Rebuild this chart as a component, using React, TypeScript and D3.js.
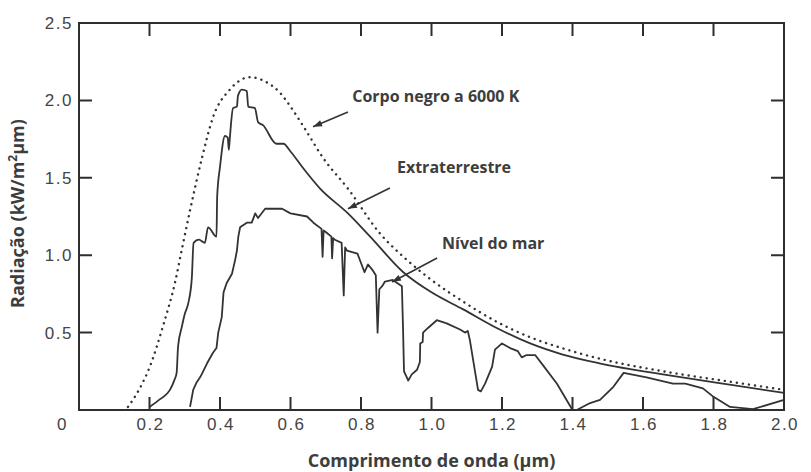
import React from 'react'
import * as d3 from 'd3'

// [wavelength µm, radiation kW/m²µm]
const blackBody: [number, number][] = [
  [0.139, 0.02], [0.17, 0.13], [0.201, 0.28], [0.238, 0.54], [0.272, 0.82],
  [0.292, 1.04], [0.315, 1.29], [0.349, 1.63], [0.38, 1.89], [0.428, 2.07],
  [0.485, 2.15], [0.53, 2.12], [0.57, 2.05], [0.6, 1.96], [0.64, 1.82],
  [0.692, 1.63], [0.763, 1.43], [0.854, 1.14], [0.93, 0.97], [1.0, 0.84],
  [1.09, 0.7], [1.185, 0.57], [1.28, 0.47], [1.37, 0.4], [1.48, 0.33],
  [1.67, 0.245], [1.855, 0.18], [2.0, 0.13]
]

const extraterrestrial: [number, number][] = [
  [0.2, 0.02], [0.23, 0.07], [0.258, 0.13], [0.27, 0.19], [0.277, 0.24],
  [0.281, 0.41], [0.292, 0.54], [0.3, 0.62], [0.31, 0.69], [0.32, 0.85],
  [0.325, 1.08], [0.34, 1.1], [0.357, 1.08], [0.366, 1.18], [0.39, 1.12],
  [0.392, 1.38], [0.4, 1.57], [0.414, 1.77], [0.422, 1.76], [0.425, 1.68],
  [0.428, 1.76], [0.437, 1.95], [0.448, 1.96], [0.451, 2.03], [0.462, 2.07],
  [0.476, 2.06], [0.48, 1.96], [0.499, 1.95], [0.508, 1.86], [0.522, 1.84],
  [0.56, 1.72], [0.58, 1.72], [0.6, 1.67], [0.64, 1.55], [0.684, 1.43],
  [0.763, 1.27], [0.826, 1.12], [0.92, 0.89], [1.0, 0.76], [1.09, 0.65],
  [1.185, 0.53], [1.28, 0.43], [1.37, 0.36], [1.48, 0.3], [1.67, 0.225],
  [1.855, 0.16], [2.0, 0.11]
]

const seaLevel: [number, number][] = [
  [0.315, 0.02], [0.324, 0.13], [0.334, 0.18], [0.343, 0.21], [0.348, 0.23],
  [0.363, 0.3], [0.38, 0.37], [0.39, 0.4], [0.395, 0.5], [0.405, 0.6],
  [0.41, 0.76], [0.419, 0.82], [0.434, 0.88], [0.443, 0.97], [0.448, 1.03],
  [0.452, 1.12], [0.457, 1.18], [0.476, 1.21], [0.49, 1.21], [0.5, 1.27],
  [0.508, 1.24], [0.528, 1.3], [0.576, 1.3], [0.6, 1.27], [0.647, 1.25],
  [0.665, 1.21], [0.688, 1.17], [0.691, 0.99], [0.694, 1.16], [0.7, 1.15],
  [0.716, 1.12], [0.718, 0.98], [0.721, 1.11], [0.726, 1.1], [0.745, 1.08],
  [0.751, 0.74], [0.755, 1.05], [0.76, 1.03], [0.79, 1.01], [0.81, 0.89],
  [0.82, 0.94], [0.834, 0.9], [0.842, 0.87], [0.847, 0.5], [0.852, 0.78],
  [0.86, 0.8], [0.868, 0.83], [0.89, 0.84], [0.916, 0.8], [0.919, 0.55],
  [0.922, 0.25], [0.93, 0.21], [0.934, 0.19], [0.944, 0.23], [0.959, 0.26],
  [0.967, 0.31], [0.968, 0.43], [0.975, 0.44], [0.976, 0.5], [0.99, 0.53],
  [1.015, 0.58], [1.043, 0.56], [1.081, 0.52], [1.095, 0.5], [1.103, 0.51],
  [1.109, 0.45], [1.132, 0.13], [1.14, 0.12], [1.152, 0.17], [1.172, 0.28],
  [1.18, 0.39], [1.2, 0.43], [1.223, 0.4], [1.245, 0.38], [1.256, 0.34],
  [1.27, 0.355], [1.294, 0.355], [1.316, 0.29], [1.356, 0.17], [1.4, 0.0],
  [1.412, 0.0], [1.45, 0.045], [1.478, 0.065], [1.516, 0.15], [1.545, 0.24],
  [1.61, 0.21], [1.685, 0.17], [1.72, 0.17], [1.77, 0.14], [1.8, 0.085],
  [1.847, 0.02], [1.912, 0.005], [2.0, 0.065]
]

const xTicks = [0.2, 0.4, 0.6, 0.8, 1.0, 1.2, 1.4, 1.6, 1.8]
const xTickLabels = ['0.2', '0.4', '0.6', '0.8', '1.0', '1.2', '1.4', '1.6', '1.8', '2.0']
const yTicks = [0.5, 1.0, 1.5, 2.0]
const yTickLabels = ['0.5', '1.0', '1.5', '2.0', '2.5']

// annotations: label position, arrow start -> arrow tip (all in data units)
const annotations = [
  { text: 'Corpo negro a 6000 K', at: [0.775, 1.99], from: [0.763, 1.925], to: [0.664, 1.83] },
  { text: 'Extraterrestre', at: [0.902, 1.53], from: [0.882, 1.434], to: [0.763, 1.3] },
  { text: 'Nível do mar', at: [1.03, 1.04], from: [1.016, 0.982], to: [0.888, 0.827] }
]

const W = 811
const H = 472
const margin = { left: 79, right: 27, top: 23, bottom: 62 }

const ink = '#333'
const labelColor = '#3d3d3d'

export default function App() {
  const x = d3.scaleLinear().domain([0, 2]).range([margin.left, W - margin.right])
  const y = d3.scaleLinear().domain([0, 2.5]).range([H - margin.bottom, margin.top])

  const smooth = d3.line<[number, number]>().x(d => x(d[0])).y(d => y(d[1])).curve(d3.curveMonotoneX)
  const jagged = d3.line<[number, number]>().x(d => x(d[0])).y(d => y(d[1]))

  const left = x(0), right = x(2), bottom = y(0), top = y(2.5)
  const tickLen = 13
  const pw = right - left, ph = bottom - top

  // frame + inward ticks, relative to the plot's top-left corner
  const frame = d3.path()
  frame.rect(0, 0, pw, ph)
  xTicks.forEach(t => {
    const px = x(t) - left
    frame.moveTo(px, ph); frame.lineTo(px, ph - tickLen)
    frame.moveTo(px, 0); frame.lineTo(px, tickLen)
  })
  yTicks.forEach(t => {
    const py = y(t) - top
    frame.moveTo(0, py); frame.lineTo(tickLen, py)
    frame.moveTo(pw, py); frame.lineTo(pw - tickLen, py)
  })

  const arrowHead = (from: number[], to: number[]) => {
    const fx = x(from[0]), fy = y(from[1]), tx = x(to[0]), ty = y(to[1])
    const a = Math.atan2(ty - fy, tx - fx)
    const len = 9, w = 3.2
    const bx = tx - len * Math.cos(a), by = ty - len * Math.sin(a)
    const px = -Math.sin(a) * w, py = Math.cos(a) * w
    return `M${tx},${ty}L${bx + px},${by + py}L${bx - px},${by - py}Z`
  }

  const tickFont = { fontFamily: '"Liberation Sans", Arial, sans-serif', fontSize: 17, letterSpacing: 1.5, fill: '#444' }
  const titleFont = { fontFamily: '"Open Sans", sans-serif', fontWeight: 700, fill: labelColor }

  return (
    <svg width={W} height={H} style={{ position: 'absolute', left: 0, top: 0 }}>
      {/* tick labels */}
      {xTickLabels.map(l => (
        <text key={'xlab' + l} x={x(+l) + 1} y={bottom + 20} textAnchor="middle" {...tickFont}>{l}</text>
      ))}
      <text x={left - 11} y={bottom + 20} textAnchor="end" {...tickFont}>0</text>
      {yTickLabels.map(l => (
        <text key={'ylab' + l} x={left - 6} y={y(+l) + 6} textAnchor="end" {...tickFont}>{l}</text>
      ))}

      {/* curves */}
      <path d={smooth(blackBody) || ''} fill="none" stroke={ink} strokeWidth={2.4}
        strokeDasharray="0.1 6" strokeLinecap="round" />
      <path d={smooth(extraterrestrial) || ''} fill="none" stroke={ink} strokeWidth={1.8} />
      <path d={jagged(seaLevel) || ''} fill="none" stroke={ink} strokeWidth={1.8} strokeLinejoin="round" />

      {/* annotations */}
      {annotations.map(a => (
        <g key={a.text}>
          <path d={`M${x(a.from[0])},${y(a.from[1])}L${x(a.to[0])},${y(a.to[1])}`} stroke={ink} strokeWidth={1.6} fill="none" />
          <path d={arrowHead(a.from, a.to)} fill={ink} />
          <text x={x(a.at[0])} y={y(a.at[1])} fontSize={16} {...titleFont}>{a.text}</text>
        </g>
      ))}

      {/* axis titles */}
      <text x={(left + right) / 2} y={467} textAnchor="middle" fontSize={18} {...titleFont}>Comprimento de onda (µm)</text>
      <text transform={`translate(24, ${(bottom + top) / 2 - 3}) rotate(-90)`} textAnchor="middle" fontSize={18} {...titleFont}>
        Radiação (kW/m<tspan dy={-7} fontSize={12}>2</tspan><tspan dy={7}>µm)</tspan>
      </text>

      {/* frame drawn last */}
      <g transform={`translate(${left},${top})`}>
        <path d={frame.toString()} fill="none" stroke="#2e2e2e" strokeWidth={2} />
      </g>
    </svg>
  )
}
